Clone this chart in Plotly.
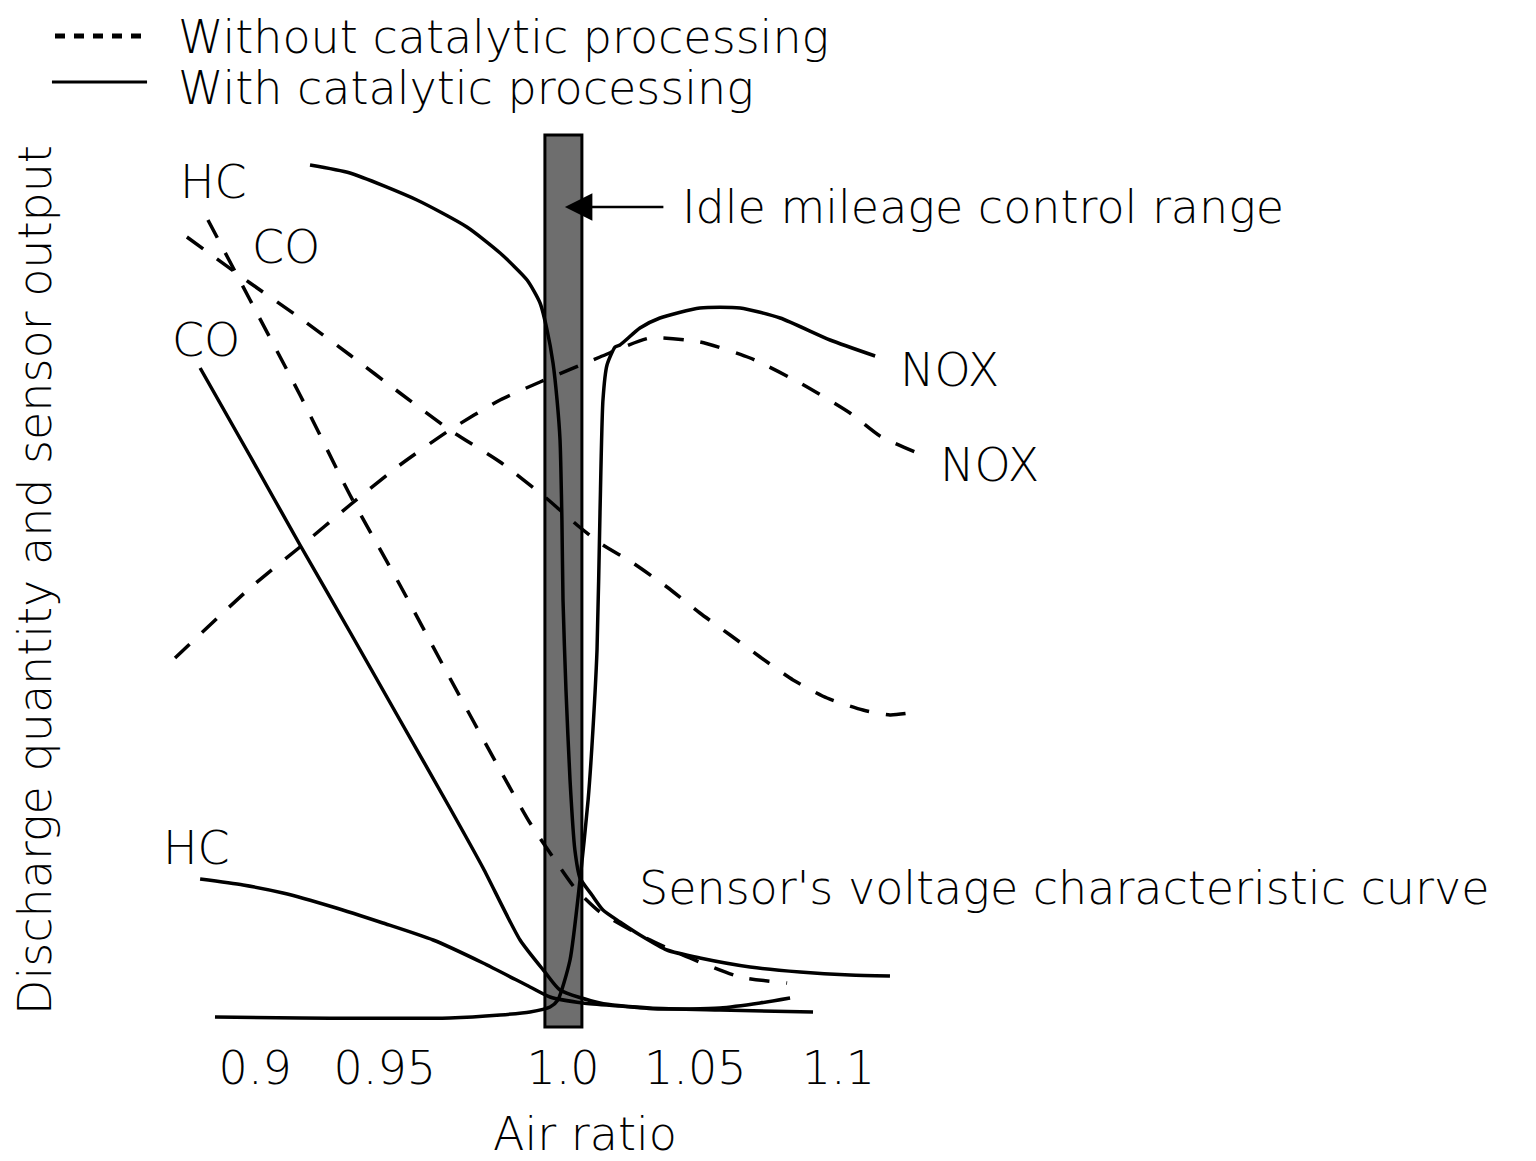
import plotly.graph_objects as go

# ---------------- data (air ratio vs relative discharge / sensor output) ----------------
sensor_x = [0.9063, 0.9211, 0.9459, 0.9644, 0.9767, 0.9867, 0.9915, 0.9941, 0.9963, 0.9978,
            0.9989, 0.9996, 1.0000, 1.0011, 1.0026, 1.0044, 1.0063, 1.0107, 1.0148, 1.0211,
            1.0285, 1.0385, 1.0507, 1.0693, 1.0878, 1.1063, 1.1211]
sensor_y = [86.5, 85.7, 83.0, 80.3, 77.7, 75.0, 72.7, 70.0, 66.7, 63.0,
            59.0, 51.0, 43.0, 34.0, 25.0, 18.0, 15.2, 13.5, 12.0, 10.8,
            9.5, 8.0, 7.2, 6.3, 5.8, 5.5, 5.4]

co_without_x = [0.8685, 0.8841, 0.9026, 0.9211, 0.9396, 0.9581, 0.9767, 0.9878, 0.9970,
                1.0044, 1.0137, 1.0285, 1.0470, 1.0656, 1.0830]
co_without_y = [81.0, 73.0, 63.5, 53.5, 44.5, 35.2, 26.0, 20.7, 17.0,
                14.2, 11.8, 9.5, 7.2, 5.3, 4.7]

hc_without_x = [0.8607, 0.8841, 0.9026, 0.9211, 0.9396, 0.9581, 0.9767, 0.9933, 1.0052, 1.0137,
                1.0259, 1.0385, 1.0507, 1.0619, 1.0730, 1.0852, 1.0978, 1.1111, 1.1211, 1.1311]
hc_without_y = [79.3, 74.7, 71.2, 67.5, 63.7, 60.0, 56.8, 53.3, 50.5, 48.7,
                46.7, 44.3, 41.7, 39.5, 37.3, 35.0, 33.2, 32.0, 31.5, 31.8]

nox_without_x = [0.8563, 0.8841, 0.9026, 0.9211, 0.9396, 0.9581, 0.9767, 0.9915, 1.0137,
                 1.0322, 1.0507, 1.0693, 1.0878, 1.1063, 1.1174, 1.1304]
nox_without_y = [37.2, 44.2, 48.3, 52.5, 56.5, 60.0, 63.0, 64.8, 67.3,
                 69.2, 68.8, 67.2, 64.7, 61.7, 59.4, 57.8]

co_with_x = [0.8656, 0.8841, 0.9026, 0.9211, 0.9396, 0.9581, 0.9704, 0.9841, 0.9933,
             0.9989, 1.0137, 1.0322, 1.0581, 1.0926]
co_with_y = [66.2, 57.4, 48.5, 39.8, 31.0, 22.2, 16.2, 9.0, 5.8,
             4.0, 2.7, 2.2, 2.0, 1.8]

hc_with_x = [0.8656, 0.8815, 0.8963, 0.9148, 0.9333, 0.9519, 0.9704, 0.9878, 0.9952,
             1.0074, 1.0211, 1.0359, 1.0581, 1.0730, 1.0841]
hc_with_y = [15.1, 14.5, 13.7, 12.3, 10.7, 9.0, 6.7, 4.3, 3.3,
             2.7, 2.4, 2.1, 2.2, 2.7, 3.2]

nox_with_x = [0.8711, 0.9026, 0.9581, 0.9767, 0.9878, 0.9952, 0.9981, 1.0026, 1.0063, 1.0093,
              1.0107, 1.0126, 1.0137, 1.0148, 1.0163, 1.0193, 1.0211, 1.0285, 1.0359, 1.0507,
              1.0656, 1.0804, 1.0989, 1.1156]
nox_with_y = [1.3, 1.2, 1.2, 1.5, 1.8, 2.3, 3.0, 7.0, 15.0, 23.0,
              28.3, 38.0, 51.7, 63.0, 66.5, 68.3, 68.5, 70.2, 71.2, 72.2,
              72.2, 71.2, 69.0, 67.4]

idle_range = [0.9933, 1.0070]          # idle mileage control range (air ratio)
idle_level = [0.3, 89.5]

tick_vals = [0.886, 0.934, 1.0, 1.049, 1.102]
tick_text = ["0.9", "0.95", "1.0", "1.05", "1.1"]

FONT = "DejaVu Sans"
FS = 46
DASH = "20px,17px"
LW = 3.5

fig = go.Figure()

def add(x, y, dash):
    fig.add_trace(go.Scatter(x=x, y=y, mode="lines", showlegend=False, hoverinfo="skip",
                             line=dict(color="black", width=LW, dash=dash,
                                       shape="spline", smoothing=0.6)))

add(sensor_x, sensor_y, "solid")
add(co_without_x, co_without_y, DASH)
add(hc_without_x, hc_without_y, DASH)
add(nox_without_x, nox_without_y, DASH)
add(co_with_x, co_with_y, "solid")
add(hc_with_x, hc_with_y, "solid")
add(nox_with_x, nox_with_y, "solid")

# idle mileage control range bar
fig.add_shape(type="rect", xref="x", yref="y", x0=idle_range[0], x1=idle_range[1],
              y0=idle_level[0], y1=idle_level[1], fillcolor="#6e6e6e",
              line=dict(color="black", width=3), layer="below")

# manual legend
fig.add_shape(type="line", xref="paper", yref="paper", x0=-0.0579, x1=0.0368, y0=1.1044, y1=1.1044,
              line=dict(color="black", width=5, dash="10px,9px"))
fig.add_shape(type="line", xref="paper", yref="paper", x0=-0.0611, x1=0.0390, y0=1.0533, y1=1.0533,
              line=dict(color="black", width=3))

tfont = dict(family=FONT, size=FS, color="black", weight=200)
txt = dict(font=tfont, showarrow=False)
fig.add_annotation(text="Without catalytic processing", xref="paper", yref="paper",
                   x=0.0695, y=1.1036, xanchor="left", yanchor="middle", **txt)
fig.add_annotation(text="With catalytic processing", xref="paper", yref="paper",
                   x=0.0695, y=1.0467, xanchor="left", yanchor="middle", **txt)

# curve labels
labels = [("HC", 0.8704, 84.8), ("CO", 0.8974, 78.3), ("CO", 0.8678, 69.0),
          ("HC", 0.8644, 18.2), ("NOX", 1.1433, 66.0), ("NOX", 1.1581, 56.5)]
for t, lx, ly in labels:
    fig.add_annotation(text=t, x=lx, y=ly, xanchor="center", yanchor="middle", **txt)

fig.add_annotation(text="Sensor's voltage characteristic curve", x=1.0274, y=14.2,
                   xanchor="left", yanchor="middle", **txt)

# idle range: arrow + text
fig.add_annotation(text="", x=1.0007, y=82.3, ax=100, ay=0,
                   showarrow=True, arrowhead=2, arrowsize=2.2, arrowwidth=2.5,
                   arrowcolor="black", standoff=0, startstandoff=0)
fig.add_annotation(text="Idle mileage control range", x=1.0433, y=82.3,
                   xanchor="left", yanchor="middle", **txt)

fig.update_layout(
    width=1528, height=1153,
    margin=dict(l=102, r=476, t=122, b=131, autoexpand=False),
    paper_bgcolor="white", plot_bgcolor="white",
    font=tfont,
    xaxis=dict(range=[0.832222, 1.184074], showgrid=False, zeroline=False, showline=False,
               tickvals=tick_vals, ticktext=tick_text, ticks="", ticklabelstandoff=7,
               tickfont=tfont, automargin=False,
               title=dict(text="Air ratio", standoff=24, font=tfont)),
    yaxis=dict(range=[0, 90], showgrid=False, zeroline=False, showline=False,
               showticklabels=False, ticks="", automargin=False,
               title=dict(text="Discharge quantity and sensor output", standoff=45, font=tfont)),
)

fig.write_html("out.html")
